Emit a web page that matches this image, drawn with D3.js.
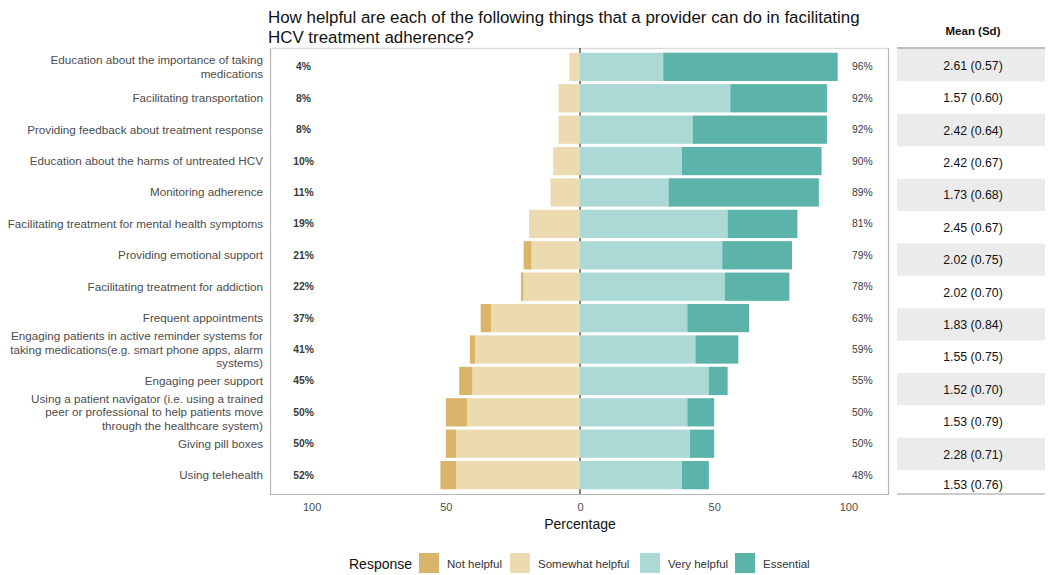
<!DOCTYPE html>
<html><head><meta charset="utf-8">
<script src="https://cdn.jsdelivr.net/npm/d3@7"></script>
<style>body{margin:0;background:#fff}svg{display:block;font-family:"Liberation Sans",Arial,sans-serif}</style>
</head><body><svg id="c" width="1050" height="575"></svg>
<script>
const categories = [
  ["Education about the importance of taking","medications"],
  ["Facilitating transportation"],
  ["Providing feedback about treatment response"],
  ["Education about the harms of untreated HCV"],
  ["Monitoring adherence"],
  ["Facilitating treatment for mental health symptoms"],
  ["Providing emotional support"],
  ["Facilitating treatment for addiction"],
  ["Frequent appointments"],
  ["Engaging patients in active reminder systems for","taking medications(e.g. smart phone apps, alarm","systems)"],
  ["Engaging peer support"],
  ["Using a patient navigator (i.e. using a trained","peer or professional to help patients move","through the healthcare system)"],
  ["Giving pill boxes"],
  ["Using telehealth"]
];
const notHelpful      = [0, 0, 0, 0, 0, 0, 3, 1, 4, 2, 5, 8, 4, 6];
const somewhatHelpful = [4, 8, 8,10,11,19,18,21,33,39,40,42,46,46];
const veryHelpful     = [31,56,42,38,33,55,53,54,40,43,48,40,41,38];
const essential       = [65,36,50,52,56,26,26,24,23,16, 7,10, 9,10];
const meanSd = ["2.61 (0.57)","1.57 (0.60)","2.42 (0.64)","2.42 (0.67)","1.73 (0.68)","2.45 (0.67)","2.02 (0.75)","2.02 (0.70)","1.83 (0.84)","1.55 (0.75)","1.52 (0.70)","1.53 (0.79)","2.28 (0.71)","1.53 (0.76)"];
const tickValues = [-100,-50,0,50,100];
const tickLabels = ["100","50","0","50","100"];
const responses = ["Not helpful","Somewhat helpful","Very helpful","Essential"];
const colors = ["#dab46a","#ecdab1","#acd9d5","#5bb3a9"];

const svg = d3.select("#c");
const x = d3.scaleLinear().domain([-115.5,115.5]).range([270,890]);
const idx = d3.range(categories.length);
const y = d3.scaleBand().domain(idx).range([48,494]).paddingInner(0.1).paddingOuter(0.15);

// title
const title = svg.append("text").attr("x",268).attr("font-size",16.9).attr("fill","#111");
title.append("tspan").attr("x",268).attr("y",23).text("How helpful are each of the following things that a provider can do in facilitating");
title.append("tspan").attr("x",268).attr("y",43).text("HCV treatment adherence?");

// panel top border
svg.append("line").attr("x1",270).attr("x2",889).attr("y1",48.5).attr("y2",48.5).attr("stroke","#dcdcdc").attr("stroke-width",1.5);
// zero line
svg.append("line").attr("x1",x(0)).attr("x2",x(0)).attr("y1",48).attr("y2",494).attr("stroke","#333").attr("stroke-width",1.2);

// stacked segments
const segs = [];
idx.forEach(i=>{
  const nh = notHelpful[i], sh = somewhatHelpful[i], vh = veryHelpful[i], es = essential[i];
  segs.push({i, x0:-(nh+sh), x1:-sh, k:0});
  segs.push({i, x0:-sh, x1:0, k:1});
  segs.push({i, x0:0, x1:vh, k:2});
  segs.push({i, x0:vh, x1:vh+es, k:3});
});
svg.append("g").selectAll("rect").data(segs.filter(d=>d.x1>d.x0)).join("rect")
  .attr("x",d=>x(d.x0)).attr("width",d=>x(d.x1)-x(d.x0))
  .attr("y",d=>y(d.i)).attr("height",y.bandwidth())
  .attr("fill",d=>colors[d.k]);

// panel side/bottom borders
svg.append("path").attr("d",`M270.5,48.5V494.5H888.5V48.5`).attr("fill","none").attr("stroke","#b5b5b5").attr("stroke-width",1.2);

// percentage labels
svg.append("g").selectAll("text").data(idx).join("text")
  .attr("x",x(-103)).attr("y",i=>y(i)+y.bandwidth()/2+3.5).attr("text-anchor","middle")
  .attr("font-size",10.3).attr("font-weight","bold").attr("fill","#3a3a3a")
  .text(i=>(notHelpful[i]+somewhatHelpful[i])+"%");
svg.append("g").selectAll("text").data(idx).join("text")
  .attr("x",x(105.2)).attr("y",i=>y(i)+y.bandwidth()/2+3.5).attr("text-anchor","middle")
  .attr("font-size",10.3).attr("fill","#3a3a3a")
  .text(i=>(veryHelpful[i]+essential[i])+"%");

// category labels
const cl = svg.append("g").selectAll("text").data(idx).join("text")
  .attr("text-anchor","end").attr("font-size",11.7).attr("fill","#4d4d4d");
cl.each(function(i){
  const lines = categories[i];
  const cy = y(i)+y.bandwidth()/2;
  const lh = 13.4;
  const t = d3.select(this);
  lines.forEach((s,j)=>{
    t.append("tspan").attr("x",263).attr("y",cy + (j-(lines.length-1)/2)*lh + 4).text(s);
  });
});

// x axis
const ax = svg.append("g").attr("transform","translate(0,494)")
  .call(d3.axisBottom(x).tickValues(tickValues).tickFormat((d,i)=>tickLabels[i]).tickSize(0).tickPadding(9));
ax.select(".domain").remove();
ax.attr("color","#4d4d4d");
ax.selectAll("text").attr("font-size",11).attr("fill","#4d4d4d").attr("font-family","Liberation Sans, Arial, sans-serif");
svg.append("text").attr("x",x(0)).attr("y",529).attr("text-anchor","middle").attr("font-size",14).attr("fill","#111").text("Percentage");

// legend
svg.append("text").attr("x",349).attr("y",569).attr("font-size",14).attr("fill","#111").text("Response");
const legX = [419,510,640,735];
const lg = svg.append("g").selectAll("g").data(responses).join("g")
  .attr("transform",(d,i)=>`translate(${legX[i]},553)`);
lg.append("rect").attr("width",20).attr("height",20).attr("fill",(d,i)=>colors[i]);
lg.append("text").attr("x",28).attr("y",14.5).attr("font-size",11.5).attr("fill","#333").text(d=>d);

// table
const ty = d3.scaleBand().domain(idx).range([49,49+32.4*14]);
svg.append("text").attr("x",973).attr("y",35).attr("text-anchor","middle").attr("font-size",11.5).attr("font-weight","bold").attr("fill","#111").text("Mean (Sd)");
svg.append("g").selectAll("rect").data(idx.filter(i=>i%2===0)).join("rect")
  .attr("x",897).attr("width",148).attr("y",i=>ty(i)).attr("height",i=>Math.min(ty.bandwidth(),494-ty(i)))
  .attr("fill","#ebebeb");
svg.append("line").attr("x1",897).attr("x2",1045).attr("y1",48).attr("y2",48).attr("stroke","#bdbdbd").attr("stroke-width",2);
svg.append("line").attr("x1",897).attr("x2",1045).attr("y1",494).attr("y2",494).attr("stroke","#bdbdbd").attr("stroke-width",1.5);
svg.append("g").selectAll("text").data(idx).join("text")
  .attr("x",973).attr("y",i=>Math.min(ty(i)+ty.bandwidth()/2+4.5, 489)).attr("text-anchor","middle")
  .attr("font-size",12.3).attr("fill","#111").text(i=>meanSd[i]);
</script></body></html>
